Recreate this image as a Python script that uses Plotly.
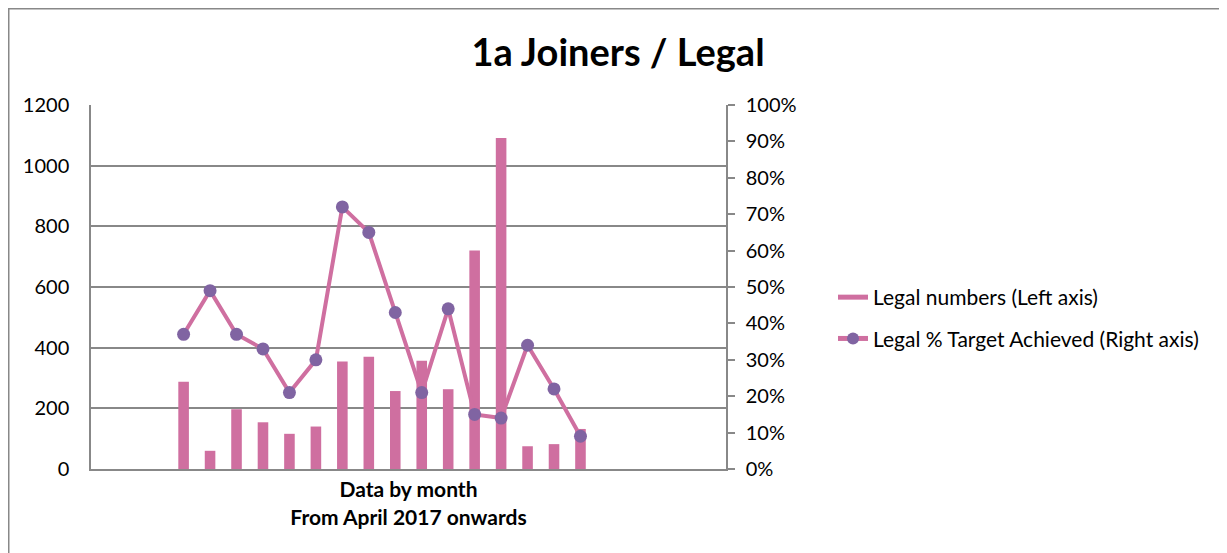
import plotly.graph_objects as go

# 24 monthly slots on the axis, data only in slots 3..18
n_slots = 24
slots = list(range(3, 19))
legal_numbers = [288, 60, 197, 154, 116, 140, 354, 370, 257, 357, 263, 720, 1091, 75, 82, 132]
legal_pct = [37, 49, 37, 33, 21, 30, 72, 65, 43, 21, 44, 15, 14, 34, 22, 9]
left_ticks = [0, 200, 400, 600, 800, 1000, 1200]
right_ticks = [0, 10, 20, 30, 40, 50, 60, 70, 80, 90, 100]

PINK = '#CF6FA0'
PURPLE = '#8064A2'
GRID = '#888888'
FONT = 'Lato'

# page body has an 8px margin, so the figure sits at (8, 8)
W, H = 1219, 545
L, R, T, B = 83, 501, 97, 84
pw, ph = W - L - R, H - T - B

fig = go.Figure()
fig.add_trace(go.Bar(
    x=slots, y=legal_numbers, name='Legal numbers (Left axis)',
    marker=dict(color=PINK, line=dict(width=0)), yaxis='y', showlegend=False))
# legend swatch for the bars (wide block like the original)
fig.add_trace(go.Scatter(
    x=[None], y=[None], name='Legal numbers (Left axis)', mode='lines',
    line=dict(color=PINK, width=12), legendgroup='a'))
fig.add_trace(go.Scatter(
    x=slots, y=[p / 100 for p in legal_pct], name='Legal % Target Achieved (Right axis)',
    mode='lines+markers', line=dict(color=PINK, width=4),
    marker=dict(color=PURPLE, size=13), yaxis='y2', legendgroup='b'))

fig.update_layout(
    width=W, height=H,
    margin=dict(l=L, r=R, t=T, b=B, autoexpand=False),
    paper_bgcolor='white', plot_bgcolor='white',
    font=dict(family=FONT, size=21, color='#000000'),
    bargap=0.6,
    showlegend=True,
    title=dict(text='<b>1a Joiners / Legal</b>', x=610 / W, xanchor='center',
               y=1 - 45 / H, yanchor='middle', font=dict(size=38, family=FONT)),
    xaxis=dict(range=[-0.5, n_slots - 0.5], showticklabels=False, ticks='',
               showgrid=False, zeroline=False, showline=True, linecolor=GRID, linewidth=1.5,
               title=dict(text='<b>Data by month<br>From April 2017 onwards</b>',
                          font=dict(size=21), standoff=13)),
    yaxis=dict(range=[0, 1200], tickvals=left_ticks, showgrid=True, gridcolor=GRID,
               gridwidth=1.5, zeroline=False, showline=True, linecolor=GRID, linewidth=1.5,
               ticks='', ticklabelstandoff=16, tickfont=dict(size=20)),
    yaxis2=dict(range=[0, 1], tickvals=[v / 100 for v in right_ticks], tickformat='.0%',
                overlaying='y', side='right', showgrid=False, zeroline=False,
                showline=True, linecolor=GRID, linewidth=1.5,
                ticks='outside', ticklen=7, tickcolor=GRID, tickwidth=1.5,
                ticklabelstandoff=7, tickfont=dict(size=20)),
    legend=dict(x=(825 - L) / pw, y=(461 - 310) / ph, xanchor='left', yanchor='middle',
                bgcolor='rgba(0,0,0,0)', tracegroupgap=11, itemsizing='constant',
                font=dict(size=21)),
)

# outer chart border (top and left visible, runs past the right/bottom edges)
fig.add_shape(type='rect', xref='paper', yref='paper',
              x0=(0.5 - L) / pw, x1=(W + 20 - L) / pw,
              y0=-(B + 20) / ph, y1=(ph + T - 0.5) / ph,
              line=dict(color=GRID, width=2), layer='below')

fig.write_html('out.html')
